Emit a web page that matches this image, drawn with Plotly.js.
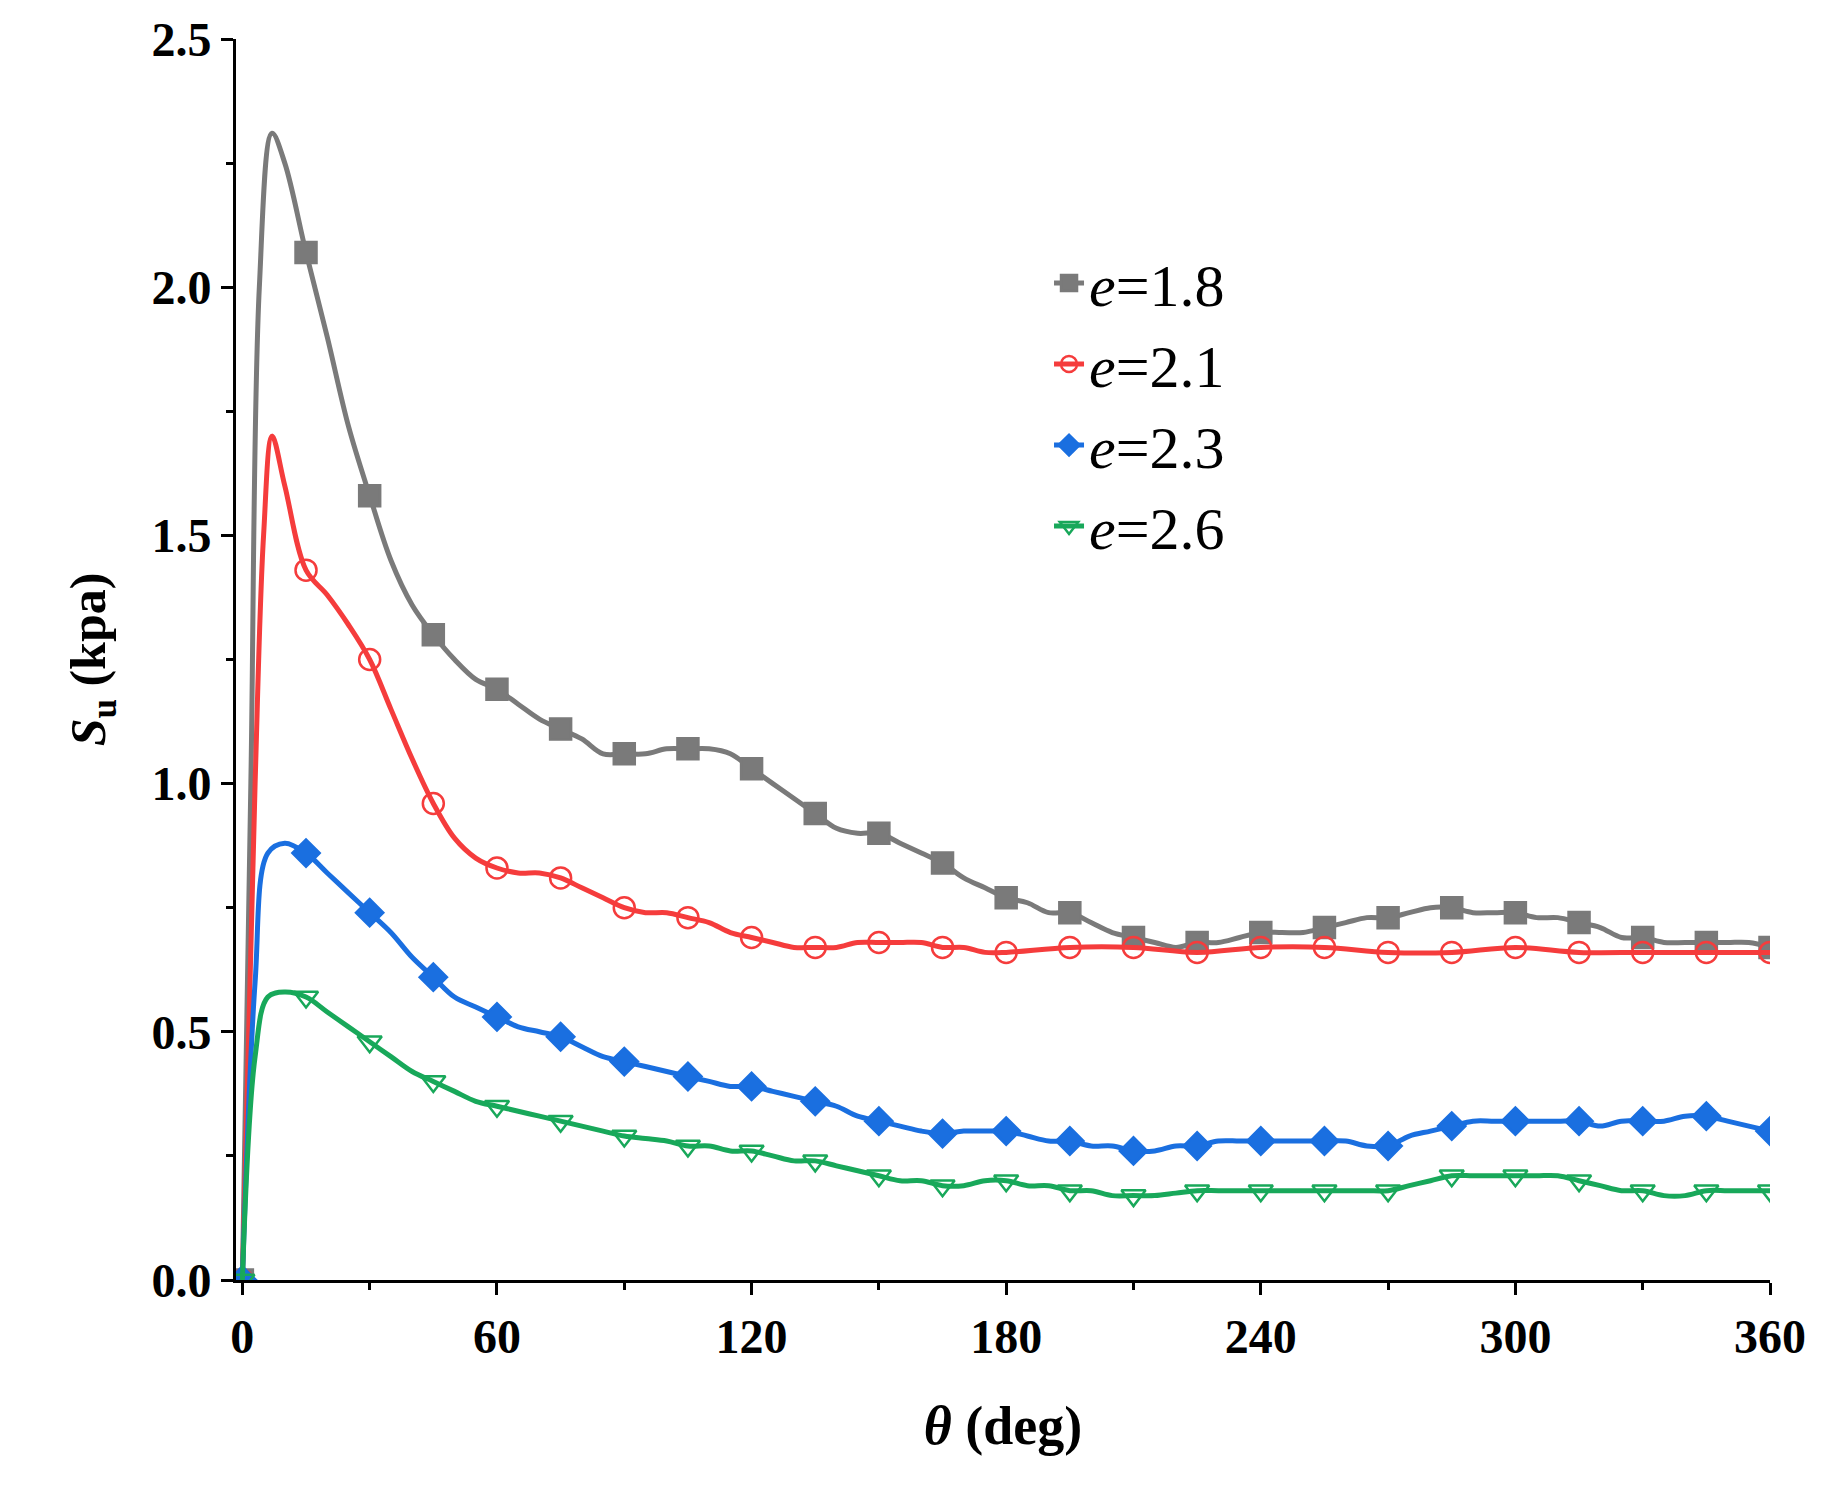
<!DOCTYPE html>
<html>
<head>
<meta charset="utf-8">
<script src="https://cdn.plot.ly/plotly-3.0.1.min.js"></script>
<style>body{margin:0;background:#fff}#chart{width:1832px;height:1506px}</style>
</head>
<body>
<div id="chart"></div>
<script>
// theta (deg) and Su (kpa)
const xA = [0,2,4,7,10,15,20,25,30,35,40,45,50,55,60,65,70,75,80,85,90,95,100,105,110,115,120,125,130,135,140,145,150,155,160,165,170,175,180,185,190,195,200,205,210,215,220,225,230,235,240,245,250,255,260,265,270,275,280,285,290,295,300,305,310,315,320,325,330,335,340,345,350,355,360];
const e18 = [0,1.0,2.0,2.31,2.25,2.07,1.9,1.72,1.58,1.45,1.36,1.3,1.25,1.21,1.19,1.16,1.13,1.11,1.09,1.06,1.06,1.06,1.07,1.07,1.07,1.06,1.03,1.0,0.97,0.94,0.91,0.9,0.9,0.88,0.86,0.84,0.81,0.79,0.77,0.76,0.74,0.74,0.72,0.7,0.69,0.68,0.67,0.68,0.68,0.69,0.70,0.70,0.70,0.71,0.72,0.73,0.73,0.74,0.75,0.75,0.74,0.74,0.74,0.73,0.73,0.72,0.71,0.69,0.69,0.68,0.68,0.68,0.68,0.68,0.67];
const xB = [0,3,5,7,10,15,20,25,30,35,40,45,50,55,60,65,70,75,80,85,90,95,100,105,110,115,120,125,130,135,140,145,150,155,160,165,170,175,180,195,210,225,240,255,270,285,300,315,330,345,360];
const e21 = [0,1.0,1.5,1.70,1.6,1.43,1.38,1.32,1.25,1.15,1.05,0.96,0.89,0.85,0.83,0.82,0.82,0.81,0.79,0.77,0.75,0.74,0.74,0.73,0.72,0.70,0.69,0.68,0.67,0.67,0.67,0.68,0.68,0.68,0.68,0.67,0.67,0.66,0.66,0.67,0.67,0.66,0.67,0.67,0.66,0.66,0.67,0.66,0.66,0.66,0.66];
const xC = [0,3,6,10,15,20,25,30,35,40,45,50,55,60,65,70,75,80,85,90,95,100,105,110,115,120,125,130,135,140,145,150,155,160,165,170,175,180,185,190,195,200,205,210,215,220,225,230,235,240,245,250,255,260,265,270,275,280,285,290,295,300,305,310,315,320,325,330,335,340,345,350,355,360];
const e23 = [0,0.6,0.86,0.88,0.86,0.82,0.78,0.74,0.70,0.65,0.61,0.57,0.55,0.53,0.51,0.50,0.49,0.47,0.45,0.44,0.43,0.42,0.41,0.40,0.39,0.39,0.38,0.37,0.36,0.35,0.33,0.32,0.31,0.30,0.295,0.30,0.30,0.30,0.29,0.28,0.28,0.27,0.27,0.26,0.26,0.27,0.27,0.28,0.28,0.28,0.28,0.28,0.28,0.28,0.27,0.27,0.29,0.30,0.31,0.32,0.32,0.32,0.32,0.32,0.32,0.31,0.32,0.32,0.32,0.33,0.33,0.32,0.31,0.30];
const e26 = [0,0.45,0.57,0.58,0.57,0.54,0.51,0.48,0.45,0.42,0.40,0.38,0.36,0.35,0.34,0.33,0.32,0.31,0.30,0.29,0.285,0.28,0.27,0.27,0.26,0.26,0.25,0.24,0.24,0.23,0.22,0.21,0.20,0.20,0.19,0.19,0.20,0.20,0.19,0.19,0.18,0.18,0.17,0.17,0.17,0.175,0.18,0.18,0.18,0.18,0.18,0.18,0.18,0.18,0.18,0.18,0.19,0.20,0.21,0.21,0.21,0.21,0.21,0.21,0.20,0.19,0.18,0.18,0.17,0.17,0.18,0.18,0.18,0.18];
const names = ['<i>e</i>=1.8','<i>e</i>=2.1','<i>e</i>=2.3','<i>e</i>=2.6'];
const colors = ['#7a7a7a', '#f53c3c', '#1a6fe0', '#18a85a'];
const symbols = ['square', 'circle-open', 'diamond', 'triangle-down-open'];

function mk(x, y, i) {
  return {
    x: x, y: y, name: names[i], type: 'scatter', mode: 'lines+markers', showlegend: false,
    line: {color: colors[i], width: 5, shape: 'spline'},
    marker: {symbol: symbols[i], color: colors[i], opacity: 1, size: x.map(v => v % 15 === 0 ? 21 : 0),
             line: {color: colors[i], width: 2.5}}
  };
}
// legend-only entries so the legend symbols are full size
function leg(i) {
  return {x: [null], y: [null], name: names[i], type: 'scatter', mode: 'lines+markers',
    line: {color: colors[i], width: 5},
    marker: {symbol: symbols[i], color: colors[i], size: 21, line: {color: colors[i], width: 2.5}}};
}
const traces = [mk(xA, e18, 0), mk(xB, e21, 1), mk(xC, e23, 2), mk(xC, e26, 3), leg(0), leg(1), leg(2), leg(3)];

const tf = {family: 'Liberation Serif, Times New Roman, serif', size: 48, color: '#000', weight: 'bold'};
const axis = {
  showgrid: false, zeroline: false, showline: true, linecolor: '#000', linewidth: 3,
  ticks: 'outside', ticklen: 12, tickwidth: 3, tickcolor: '#000',
  tickfont: tf, minor: {ticks: 'outside', ticklen: 7, tickwidth: 3, tickcolor: '#000'}
};
const layout = {
  width: 1832, height: 1506, paper_bgcolor: '#fff', plot_bgcolor: '#fff',
  margin: {l: 236, r: 62, t: 39, b: 226},
  showlegend: true,
  legend: {x: 0.53, y: 0.84, xanchor: 'left', yanchor: 'top', bgcolor: 'rgba(0,0,0,0)',
           font: {family: 'Liberation Serif, serif', size: 60, color: '#000'}, tracegroupgap: 8},
  xaxis: Object.assign({}, axis, {range: [-1.5, 360], tickvals: [0,60,120,180,240,300,360],
           minor: Object.assign({}, axis.minor, {dtick: 30, tick0: 0}),
           title: {text: '<i>θ</i> (deg)', font: Object.assign({}, tf, {size: 54}), standoff: 45}}),
  yaxis: Object.assign({}, axis, {range: [0, 2.5], dtick: 0.5, tickformat: '.1f',
           minor: Object.assign({}, axis.minor, {dtick: 0.25}),
           title: {text: '<i>S</i><sub>u</sub> (kpa)', font: Object.assign({}, tf, {size: 50}), standoff: 30}})
};
Plotly.newPlot('chart', traces, layout, {displayModeBar: false});
</script>
</body>
</html>
